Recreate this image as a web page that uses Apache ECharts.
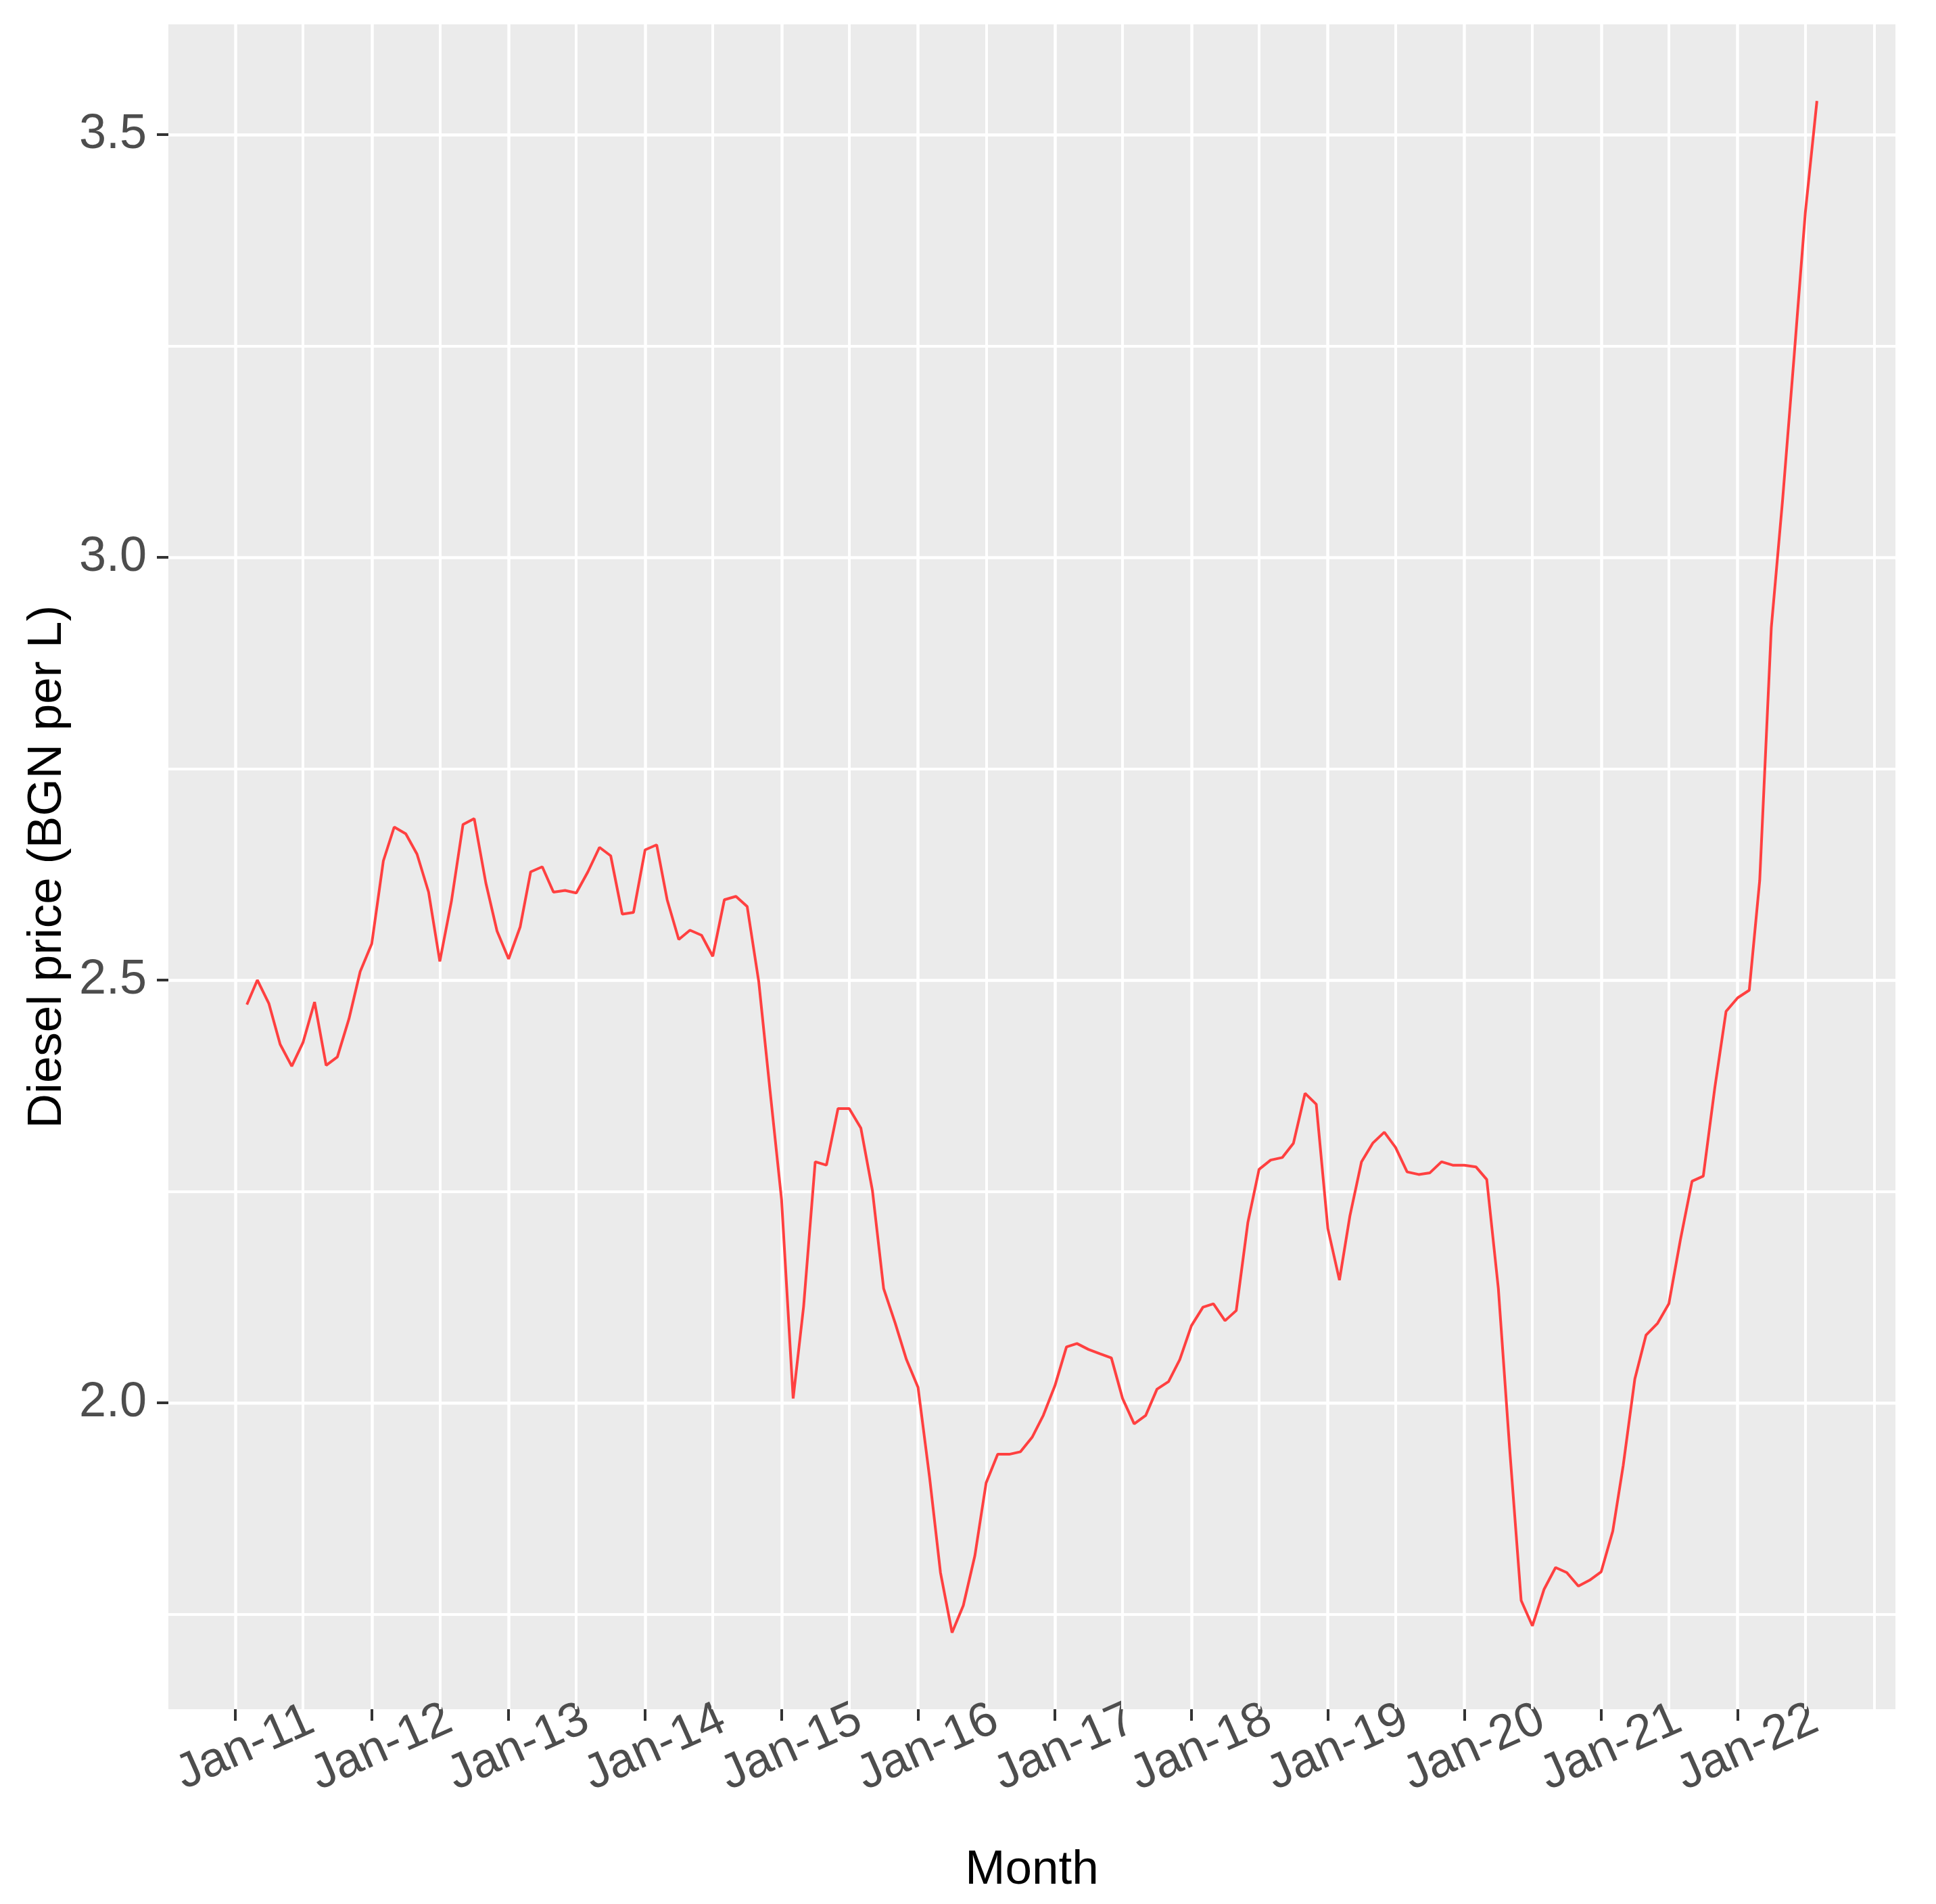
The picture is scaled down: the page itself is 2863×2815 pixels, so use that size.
<!DOCTYPE html>
<html>
<head>
<meta charset="utf-8">
<script src="https://cdn.jsdelivr.net/npm/echarts@6/dist/echarts.min.js"></script>
<style>
html,body{margin:0;padding:0;background:#ffffff;}
#chart{width:2863px;height:2815px;}
</style>
</head>
<body>
<div id="chart"></div>
<script>
// ---- data (monthly, first day of month) ----
const months = [
  '2011-02','2011-03','2011-04','2011-05','2011-06','2011-07','2011-08','2011-09','2011-10','2011-11','2011-12',
  '2012-01','2012-02','2012-03','2012-04','2012-05','2012-06','2012-07','2012-08','2012-09','2012-10','2012-11','2012-12',
  '2013-01','2013-02','2013-03','2013-04','2013-05','2013-06','2013-07','2013-08','2013-09','2013-10','2013-11','2013-12',
  '2014-01','2014-02','2014-03','2014-04','2014-05','2014-06','2014-07','2014-08','2014-09','2014-10','2014-11','2014-12',
  '2015-01','2015-02','2015-03','2015-04','2015-05','2015-06','2015-07','2015-08','2015-09','2015-10','2015-11','2015-12',
  '2016-01','2016-02','2016-03','2016-04','2016-05','2016-06','2016-07','2016-08','2016-09','2016-10','2016-11','2016-12',
  '2017-01','2017-02','2017-03','2017-04','2017-05','2017-06','2017-07','2017-08','2017-09','2017-10','2017-11','2017-12',
  '2018-01','2018-02','2018-03','2018-04','2018-05','2018-06','2018-07','2018-08','2018-09','2018-10','2018-11','2018-12',
  '2019-01','2019-02','2019-03','2019-04','2019-05','2019-06','2019-07','2019-08','2019-09','2019-10','2019-11','2019-12',
  '2020-01','2020-02','2020-03','2020-04','2020-05','2020-06','2020-07','2020-08','2020-09','2020-10','2020-11','2020-12',
  '2021-01','2021-02','2021-03','2021-04','2021-05','2021-06','2021-07','2021-08','2021-09','2021-10','2021-11','2021-12',
  '2022-01','2022-02','2022-03','2022-04','2022-05','2022-06','2022-07','2022-08'
];
const prices = [
  2.471,2.500,2.472,2.424,2.398,2.426,2.474,2.399,2.409,2.454,2.510,
  2.543,2.641,2.681,2.673,2.649,2.604,2.522,2.593,2.684,2.691,2.615,2.558,
  2.525,2.563,2.628,2.634,2.604,2.606,2.603,2.628,2.657,2.647,2.578,2.580,
  2.654,2.660,2.595,2.548,2.559,2.553,2.528,2.595,2.599,2.587,2.498,2.370,
  2.240,2.005,2.114,2.285,2.281,2.348,2.348,2.325,2.251,2.135,2.094,2.051,
  2.018,1.911,1.799,1.728,1.760,1.819,1.905,1.939,1.939,1.942,1.959,1.985,
  2.020,2.066,2.070,2.063,2.058,2.053,2.005,1.975,1.985,2.016,2.025,2.051,
  2.091,2.113,2.117,2.097,2.109,2.213,2.276,2.287,2.290,2.307,2.366,2.353,
  2.206,2.145,2.221,2.285,2.307,2.320,2.302,2.273,2.270,2.272,2.285,2.281,
  2.281,2.279,2.264,2.135,1.947,1.766,1.736,1.779,1.805,1.799,1.783,1.790,
  1.800,1.848,1.926,2.028,2.080,2.094,2.117,2.193,2.262,2.268,2.373,2.463,
  2.479,2.488,2.618,2.917,3.067,3.238,3.408,3.540
];
const xTickMonths = ['2011-01','2012-01','2013-01','2014-01','2015-01','2016-01','2017-01','2018-01','2019-01','2020-01','2021-01','2022-01'];
const xTickLabels = ['Jan-11','Jan-12','Jan-13','Jan-14','Jan-15','Jan-16','Jan-17','Jan-18','Jan-19','Jan-20','Jan-21','Jan-22'];
const xMinorMonths = ['2011-07','2012-07','2013-07','2014-07','2015-07','2016-07','2017-07','2018-07','2019-07','2020-07','2021-07','2022-07','2023-01'];
const yTicks = [2.0, 2.5, 3.0, 3.5];
const yMinor = [1.75, 2.25, 2.75, 3.25];

// ---- helpers ----
function ts(s){ const p = s.split('-').map(Number); return Date.UTC(p[0], p[1]-1, 1); }
const xVals = months.map(ts);
const xTickVals = xTickMonths.map(ts);
const xMinorVals = xMinorMonths.map(ts);
const labelOf = {};
xTickVals.forEach((v,i)=>{ labelOf[v] = xTickLabels[i]; });

const xLo = Math.min(...xVals), xHi = Math.max(...xVals), xPad = (xHi - xLo) * 0.05;
const yLo = Math.min(...prices), yHi = Math.max(...prices), yPad = (yHi - yLo) * 0.05;

const FONT = '"Liberation Sans", Arial, Helvetica, sans-serif';
const MAJOR_W = 4.5, MINOR_W = 4;

const gridLines = [];
yMinor.forEach(v => gridLines.push({yAxis: v, lineStyle: {width: MINOR_W}}));
xMinorVals.forEach(v => gridLines.push({xAxis: v, lineStyle: {width: MINOR_W}}));
yTicks.forEach(v => gridLines.push({yAxis: v, lineStyle: {width: MAJOR_W}}));
xTickVals.forEach(v => gridLines.push({xAxis: v, lineStyle: {width: MAJOR_W}}));

const chart = echarts.init(document.getElementById('chart'), null, {renderer: 'canvas'});
chart.setOption({
  animation: false,
  backgroundColor: '#ffffff',
  grid: {
    left: 249, top: 36, width: 2554, height: 2491,
    show: true, backgroundColor: '#EBEBEB', borderWidth: 0, containLabel: false
  },
  xAxis: {
    type: 'value',
    min: xLo - xPad, max: xHi + xPad,
    name: 'Month', nameLocation: 'middle', nameGap: 203,
    nameTextStyle: {fontSize: 71, color: '#000000', fontFamily: FONT},
    axisLine: {show: false},
    splitLine: {show: false},
    axisTick: {show: true, customValues: xTickVals, length: 17, lineStyle: {color: '#333333', width: 4}},
    axisLabel: {
      customValues: xTickVals,
      formatter: v => labelOf[v] || '',
      rotate: 24, align: 'center', verticalAlign: 'top', margin: 24,
      fontSize: 72, color: '#4D4D4D', fontFamily: FONT
    }
  },
  yAxis: {
    type: 'value',
    min: yLo - yPad, max: yHi + yPad,
    name: 'Diesel price (BGN per L)', nameLocation: 'middle', nameGap: 139,
    nameTextStyle: {fontSize: 71, color: '#000000', fontFamily: FONT},
    axisLine: {show: false},
    splitLine: {show: false},
    axisTick: {show: true, customValues: yTicks, length: 17, lineStyle: {color: '#333333', width: 4}},
    axisLabel: {
      customValues: yTicks,
      formatter: v => Number(v).toFixed(1),
      margin: 32, fontSize: 72, color: '#4D4D4D', fontFamily: FONT
    }
  },
  series: [
    {
      type: 'line', data: [], z: 1, silent: true,
      markLine: {
        silent: true, z: 1, animation: false,
        symbol: ['none', 'none'],
        label: {show: false},
        lineStyle: {color: '#FFFFFF', type: 'solid', width: MAJOR_W},
        emphasis: {disabled: true},
        data: gridLines
      }
    },
    {
      name: 'Diesel price', type: 'line', z: 3,
      data: xVals.map((x, i) => [x, prices[i]]),
      symbol: 'none', showSymbol: false,
      lineStyle: {color: '#FF4040', width: 4},
      emphasis: {disabled: true}
    }
  ]
});
</script>
</body>
</html>
